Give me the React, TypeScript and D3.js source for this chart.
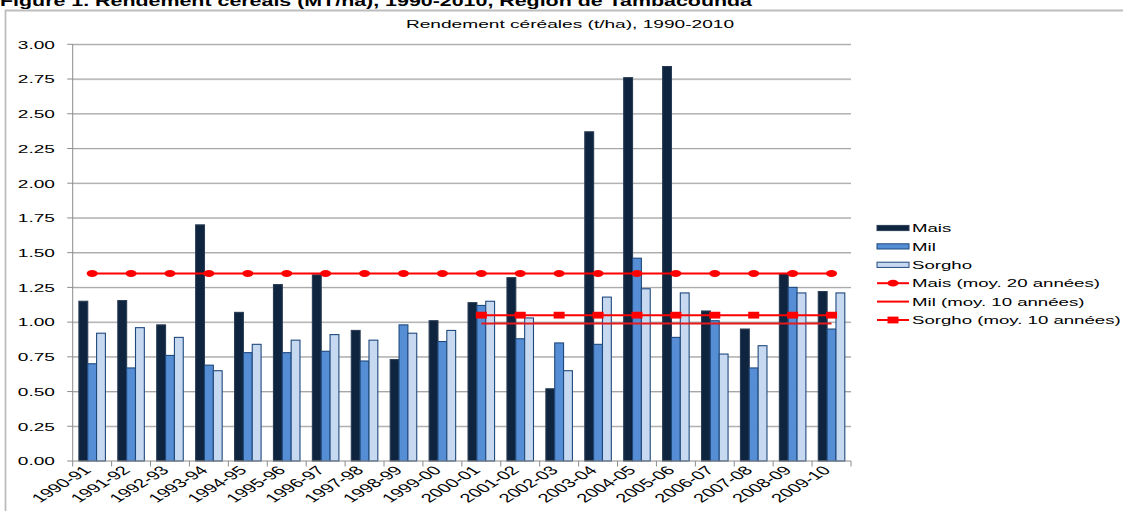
import React from 'react'
import * as d3 from 'd3'

const campaigns = [
  '1990-91', '1991-92', '1992-93', '1993-94', '1994-95', '1995-96', '1996-97', '1997-98', '1998-99', '1999-00',
  '2000-01', '2001-02', '2002-03', '2003-04', '2004-05', '2005-06', '2006-07', '2007-08', '2008-09', '2009-10'
]
const mais = [1.15, 1.155, 0.98, 1.70, 1.07, 1.27, 1.34, 0.94, 0.73, 1.01, 1.14, 1.32, 0.52, 2.37, 2.76, 2.84, 1.08, 0.95, 1.35, 1.22]
const mil = [0.70, 0.67, 0.76, 0.69, 0.78, 0.78, 0.79, 0.72, 0.98, 0.86, 1.12, 0.88, 0.85, 0.84, 1.46, 0.89, 1.01, 0.67, 1.25, 0.95]
const sorgho = [0.92, 0.96, 0.89, 0.65, 0.84, 0.87, 0.91, 0.87, 0.92, 0.94, 1.15, 1.03, 0.65, 1.18, 1.24, 1.21, 0.77, 0.83, 1.21, 1.21]
// averages
const maisAvg20 = 1.35
const milAvg10 = 0.99
const sorghoAvg10 = 1.05
const last10 = campaigns.slice(10)
const yTicks = [0, 0.25, 0.5, 0.75, 1, 1.25, 1.5, 1.75, 2, 2.25, 2.5, 2.75, 3]

const W = 1123
const H = 511
const SX = 1.62 // the source image is stretched horizontally
const FONT = '"Liberation Sans", Arial, sans-serif'
const RED = '#ff0000'
const C_MAIS = '#0f243e'
const C_MIL = '#558ed5'
const C_SORGHO = '#c6d9f1'
const C_EDGE = '#1f497d'

const plot = { left: 72.7, right: 851, top: 44.3, bottom: 461 }

const App: React.FC = () => {
  const x = d3.scaleBand<string>().domain(campaigns).range([plot.left, plot.right]).padding(0)
  const y = d3.scaleLinear().domain([0, 3]).range([plot.bottom, plot.top])
  const inner = d3.scaleBand<string>()
    .domain(['mais', 'mil', 'sorgho'])
    .range([0, x.bandwidth()])
    .paddingInner(0)
    .paddingOuter(0.7)
  const cx = (c: string) => (x(c) ?? 0) + x.bandwidth() / 2

  const series = [
    { key: 'mais', values: mais, fill: C_MAIS, stroke: '#2a3d55' },
    { key: 'mil', values: mil, fill: C_MIL, stroke: C_EDGE },
    { key: 'sorgho', values: sorgho, fill: C_SORGHO, stroke: C_EDGE }
  ]

  const line = d3.line<[string, number]>().x(d => cx(d[0])).y(d => y(d[1]))
  const maisLine = campaigns.map(c => [c, maisAvg20] as [string, number])
  const milLine = last10.map(c => [c, milAvg10] as [string, number])
  const sorghoLine = last10.map(c => [c, sorghoAvg10] as [string, number])

  const legendX = 877
  const legendY = [228, 246.4, 264.8, 283.2, 301.6, 320]
  const legendLabels = ['Mais', 'Mil', 'Sorgho', 'Mais (moy. 20 années)', 'Mil (moy. 10 années)', 'Sorgho (moy. 10 années)']

  return (
    <svg width={W} height={H} style={{ position: 'fixed', left: 0, top: 0, background: '#fff' }} fontFamily={FONT}>
      {/* figure caption, cut at the top of the picture */}
      <text x={0} y={5.5} fontWeight="bold" fontSize={15} textLength={752} lengthAdjust="spacingAndGlyphs" fill="#000">
        Figure 1. Rendement céréals (MT/ha), 1990-2010, Région de Tambacounda
      </text>

      {/* chart frame */}
      <path d={`M5.5,${H} V10.5 H${W}`} fill="none" stroke="#bdbdbd" strokeWidth={1.8} />

      <text transform={`translate(570,28) scale(${SX},1)`} textAnchor="middle" fontSize={11.8} fill="#000">
        Rendement céréales (t/ha), 1990-2010
      </text>

      {/* gridlines and y axis */}
      {yTicks.map(t => (
        <g key={t}>
          {t > 0 && (
            <line x1={plot.left} x2={plot.right} y1={y(t) + 0.5} y2={y(t) + 0.5} stroke="#d6d6d6" strokeWidth={1.2} />
          )}
          {t > 0 && (
            <line x1={plot.left} x2={plot.right} y1={y(t)} y2={y(t)} stroke="#a3a3a3" strokeWidth={1} />
          )}
          <line x1={plot.left - 5.5} x2={plot.left} y1={y(t)} y2={y(t)} stroke="#8c8c8c" strokeWidth={1} />
          <text transform={`translate(55,${y(t) + 4.3}) scale(${SX},1)`} textAnchor="end" fontSize={11.8} fill="#000">
            {t.toFixed(2)}
          </text>
        </g>
      ))}
      <line x1={plot.left} x2={plot.left} y1={plot.top} y2={plot.bottom} stroke="#8c8c8c" strokeWidth={1} />

      {/* bars */}
      {series.map(s => (
        <g key={s.key}>
          {campaigns.map((c, i) => (
            <rect
              key={c}
              x={(x(c) ?? 0) + (inner(s.key) ?? 0)}
              y={y(s.values[i])}
              width={inner.bandwidth()}
              height={y(0) - y(s.values[i])}
              fill={s.fill}
              stroke={s.stroke}
              strokeWidth={1.1}
            />
          ))}
        </g>
      ))}

      {/* x axis */}
      <line x1={plot.left} x2={plot.right} y1={plot.bottom} y2={plot.bottom} stroke="#8c8c8c" strokeWidth={1} />
      {[...campaigns.map(c => x(c) ?? 0), plot.right].map((px, i) => (
        <line key={i} x1={px} x2={px} y1={plot.bottom} y2={plot.bottom + 5.5} stroke="#8c8c8c" strokeWidth={1} />
      ))}
      {campaigns.map(c => (
        <text
          key={c}
          transform={`translate(${cx(c)},${plot.bottom + 10}) scale(${SX},1) rotate(-45)`}
          textAnchor="end"
          fontSize={12.4}
          fill="#000"
        >
          {c}
        </text>
      ))}

      {/* average lines */}
      <path d={line(maisLine) ?? ''} fill="none" stroke={RED} strokeWidth={2} />
      {maisLine.map(d => (
        <ellipse key={d[0]} cx={cx(d[0])} cy={y(d[1])} rx={5.5} ry={3.4} fill={RED} />
      ))}
      <path d={line(milLine) ?? ''} fill="none" stroke="#e41a1c" strokeWidth={2} />
      <path d={line(sorghoLine) ?? ''} fill="none" stroke={RED} strokeWidth={2} />
      {sorghoLine.map(d => (
        <rect key={d[0]} x={cx(d[0]) - 5.5} y={y(d[1]) - 3.4} width={11} height={6.8} fill={RED} />
      ))}

      {/* legend */}
      {legendLabels.map((label, i) => {
        const ly = legendY[i]
        let sym: React.ReactNode = null
        if (i < 3) {
          const s = series[i]
          sym = <rect x={legendX} y={ly - 2.6} width={32} height={5.2} fill={s.fill} stroke={s.stroke} strokeWidth={1} />
        } else {
          sym = (
            <g>
              <line x1={legendX} x2={legendX + 32} y1={ly} y2={ly} stroke={RED} strokeWidth={2} />
              {i === 3 && <ellipse cx={legendX + 16} cy={ly} rx={5.5} ry={3.4} fill={RED} />}
              {i === 5 && <rect x={legendX + 10.5} y={ly - 3.4} width={11} height={6.8} fill={RED} />}
            </g>
          )
        }
        return (
          <g key={label}>
            {sym}
            <text transform={`translate(${legendX + 35},${ly + 4.2}) scale(${SX},1)`} fontSize={11.5} fill="#000">
              {label}
            </text>
          </g>
        )
      })}
    </svg>
  )
}

export default App
